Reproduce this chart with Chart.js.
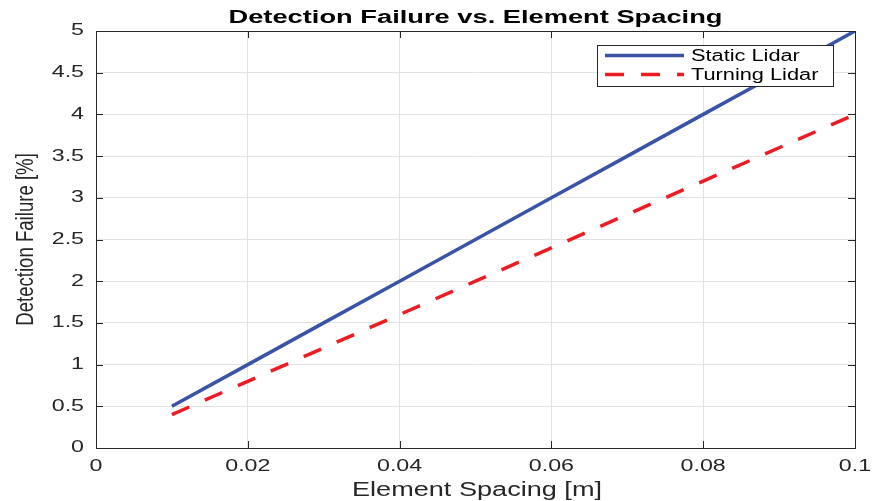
<!DOCTYPE html>
<html>
<head>
<meta charset="utf-8">
<script src="https://cdn.jsdelivr.net/npm/chart.js@4"></script>
<style>
  html, body { margin: 0; padding: 0; background: #fff; }
  #wrap { width: 877px; height: 501px; }
</style>
</head>
<body>
<div id="wrap"><canvas id="grafico"></canvas></div>
<script>
const spacing = [0.01, 0.02, 0.03, 0.04, 0.05, 0.06, 0.07, 0.08, 0.09, 0.1];
const staticLidar = [0.5, 1, 1.5, 2, 2.5, 3, 3.5, 4, 4.5, 5];
const turningLidar = [0.4, 0.8, 1.2, 1.6, 2, 2.4, 2.8, 3.2, 3.6, 4];
const xTicks = [0, 0.02, 0.04, 0.06, 0.08, 0.1];
const yTicks = [0, 0.5, 1, 1.5, 2, 2.5, 3, 3.5, 4, 4.5, 5];

const tituloTexto = "Detection Failure vs. Element Spacing";
const xTitulo = "Element Spacing [m]";
const yTitulo = "Detection Failure [%]";
const colorEje = "#262626";
const fuente = "'Liberation Sans', Arial, sans-serif";

function puntos(xs, ys) {
  return xs.map((x, i) => ({ x, y: ys[i] }));
}

// el original viene estirado en horizontal, asi que el texto se escala en x
function textoEstirado(ctx, texto, x, y, factor, align) {
  ctx.save();
  ctx.translate(x, y);
  ctx.scale(factor, 1);
  ctx.textAlign = align;
  ctx.fillText(texto, 0, 0);
  ctx.restore();
}

function textoAncho(ctx, texto, cx, y, ancho) {
  const factor = ancho / ctx.measureText(texto).width;
  textoEstirado(ctx, texto, cx, y, factor, "center");
}

const marcoPlugin = {
  id: "marco",
  afterDraw(chart) {
    const { ctx, chartArea: a, scales } = chart;
    ctx.save();
    ctx.strokeStyle = colorEje;
    ctx.lineWidth = 1;
    ctx.strokeRect(a.left + 0.5, a.top + 0.5, a.right - a.left, a.bottom - a.top);

    // ticks hacia dentro
    ctx.beginPath();
    xTicks.forEach((t) => {
      const px = Math.round(scales.x.getPixelForValue(t)) + 0.5;
      ctx.moveTo(px, a.bottom); ctx.lineTo(px, a.bottom - 7);
      ctx.moveTo(px, a.top); ctx.lineTo(px, a.top + 7);
    });
    yTicks.forEach((t) => {
      const py = Math.round(scales.y.getPixelForValue(t)) + 0.5;
      ctx.moveTo(a.left, py); ctx.lineTo(a.left + 7, py);
      ctx.moveTo(a.right, py); ctx.lineTo(a.right - 7, py);
    });
    ctx.stroke();

    // etiquetas de ticks
    ctx.fillStyle = colorEje;
    ctx.textBaseline = "middle";
    ctx.font = `16px ${fuente}`;
    xTicks.forEach((t) => {
      textoEstirado(ctx, String(t), scales.x.getPixelForValue(t), 467, 1.45, "center");
    });
    yTicks.forEach((t) => {
      textoEstirado(ctx, String(t), 84, scales.y.getPixelForValue(t), 1.45, "right");
    });

    // titulos de ejes
    ctx.font = `20px ${fuente}`;
    textoAncho(ctx, xTitulo, 477, 490, 250);

    ctx.font = `18.6px ${fuente}`;
    ctx.save();
    ctx.translate(26, (a.top + a.bottom) / 2);
    ctx.scale(1.28, 1);
    ctx.rotate(-Math.PI / 2);
    ctx.textAlign = "center";
    ctx.fillText(yTitulo, 0, 0);
    ctx.restore();

    // titulo
    ctx.fillStyle = "#000";
    ctx.font = `bold 18px ${fuente}`;
    textoAncho(ctx, tituloTexto, (a.left + a.right) / 2, 18, 494);

    // leyenda
    const lx = 597, ly = 45, lw = 236, lh = 41;
    ctx.fillStyle = "#fff";
    ctx.fillRect(lx, ly, lw, lh);
    ctx.strokeStyle = colorEje;
    ctx.lineWidth = 1;
    ctx.strokeRect(lx + 0.5, ly + 0.5, lw, lh);
    ctx.font = `16px ${fuente}`;
    chart.data.datasets.forEach((ds, i) => {
      const y = ly + 10.5 + i * 19;
      ctx.strokeStyle = ds.borderColor;
      ctx.lineWidth = ds.borderWidth;
      ctx.setLineDash(ds.borderDash || []);
      ctx.beginPath();
      ctx.moveTo(lx + 8, y);
      ctx.lineTo(lx + 87, y);
      ctx.stroke();
      ctx.setLineDash([]);
      ctx.fillStyle = "#000";
      textoEstirado(ctx, ds.label, lx + 94, y + 1, 1.36, "left");
    });
    ctx.restore();
  },
};

new Chart(document.getElementById("grafico"), {
  type: "scatter",
  data: {
    datasets: [
      {
        label: "Static Lidar",
        data: puntos(spacing, staticLidar),
        showLine: true,
        borderColor: "#3a53a4",
        borderWidth: 3.5,
        pointRadius: 0,
      },
      {
        label: "Turning Lidar",
        data: puntos(spacing, turningLidar),
        showLine: true,
        borderColor: "#ec1c24",
        borderWidth: 3.5,
        borderDash: [19, 17],
        pointRadius: 0,
      },
    ],
  },
  options: {
    responsive: true,
    maintainAspectRatio: false,
    animation: false,
    layout: { padding: { top: 31, right: 22, left: 0, bottom: 0 } },
    plugins: {
      legend: { display: false },
      tooltip: { enabled: false },
    },
    scales: {
      x: {
        type: "linear",
        min: 0,
        max: 0.1,
        afterBuildTicks: (s) => { s.ticks = xTicks.map((v) => ({ value: v })); },
        afterFit: (s) => { s.height = 53; },
        grid: { color: "#e3e3e3", drawTicks: false },
        border: { display: false },
        ticks: { display: false },
      },
      y: {
        min: 0,
        max: 5,
        afterBuildTicks: (s) => { s.ticks = yTicks.map((v) => ({ value: v })); },
        afterFit: (s) => { s.width = 96; },
        grid: { color: "#e3e3e3", drawTicks: false },
        border: { display: false },
        ticks: { display: false },
      },
    },
  },
  plugins: [marcoPlugin],
});
</script>
</body>
</html>
